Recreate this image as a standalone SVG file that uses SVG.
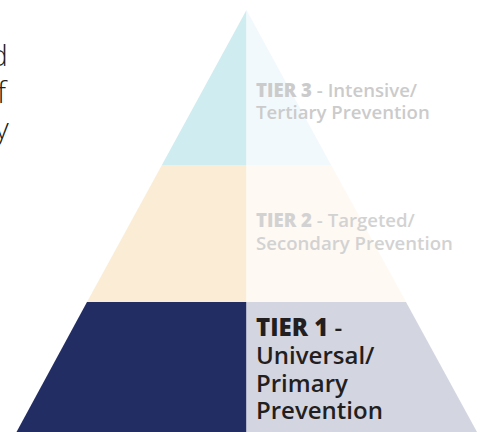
<svg xmlns="http://www.w3.org/2000/svg" width="484" height="432" viewBox="0 0 484 432">
<style>
.t { font-family: "Open Sans", "Noto Sans", "DejaVu Sans", sans-serif; }
.lt { font-size: 18.6px; font-weight: 600; }
.lt .b { font-weight: 800; }
.t3 { fill: #CBCBCB; }
.t2 { fill: #D2D2D2; }
.t1 { fill: #231F20; font-size: 24px; font-weight: 600; }
.t1 .b { font-weight: 800; }
.side { font-family: "Open Sans", "Noto Sans", sans-serif; font-size: 30px; font-weight: 300; fill: #231F20; }
</style>
<rect width="484" height="432" fill="#FFFFFF"/>
<g id="side-text">
<text class="side" x="-10" y="66">d</text>
<text class="side" x="-3" y="103">f</text>
<text class="side" x="-5" y="139">y</text>
</g>
<g id="tier3">
<polygon points="246.5,10 246.5,165 161.9,165" fill="#CFECF0"/>
<polygon points="246.5,10 331.1,165 246.5,165" fill="#F2F9FC"/>
<text class="t lt t3" x="256" y="96.5"><tspan class="b">TIER 3</tspan> - Intensive/</text>
<text class="t lt t3" x="256" y="119">Tertiary Prevention</text>
</g>
<g id="tier2">
<polygon points="161.9,165 246.5,165 246.5,302 87,302" fill="#FBEDD5"/>
<polygon points="246.5,165 331.1,165 406,302 246.5,302" fill="#FEF9F2"/>
<text class="t lt t2" x="256" y="227"><tspan class="b">TIER 2</tspan> - Targeted/</text>
<text class="t lt t2" x="256" y="249.5">Secondary Prevention</text>
</g>
<g id="tier1">
<polygon points="87,302 246.5,302 246.5,432 16.5,432" fill="#222D64"/>
<polygon points="246.5,302 406,302 477,432 246.5,432" fill="#D3D5E1"/>
<text class="t t1" x="256" y="336"><tspan class="b">TIER 1</tspan> -</text>
<text class="t t1" x="256" y="364">Universal/</text>
<text class="t t1" x="256" y="391.5">Primary</text>
<text class="t t1" x="256" y="419">Prevention</text>
</g>
</svg>
